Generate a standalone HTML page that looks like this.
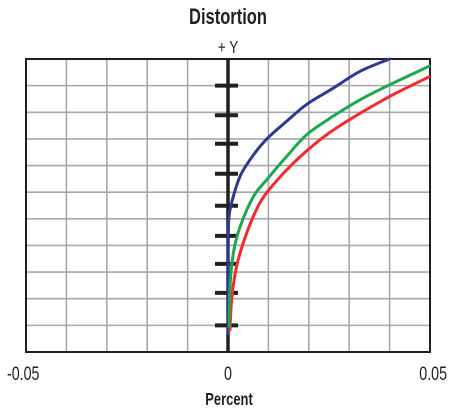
<!DOCTYPE html>
<html><head><meta charset="utf-8"><style>
html,body{margin:0;padding:0;background:#fff;}
svg{display:block;font-family:"Liberation Sans Narrow","Liberation Sans",sans-serif;}
</style></head><body>
<svg id="chart" width="454" height="411"></svg>
<script>
const xTicks=[-0.05,0,0.05];
const xTickLabels=["-0.05","0","0.05"];
const yTicks=[0.1,0.222,0.331,0.436,0.549,0.669,0.782,0.889,1.0];
const blueX=[0,0,0.0002,0.0009,0.003,0.0063,0.0096,0.0145,0.0195,0.026,0.0327,0.040];
const blueY=[0.07,0.37,0.50,0.56,0.66,0.74,0.80,0.866,0.93,0.99,1.054,1.10];
const greenX=[0.0003,0.0005,0.0013,0.003,0.0063,0.0096,0.0145,0.0195,0.026,0.0327,0.0401,0.0498];
const greenY=[0.095,0.245,0.37,0.47,0.584,0.647,0.734,0.816,0.885,0.947,1.004,1.073];
const redX=[0.0005,0.0009,0.0021,0.0046,0.0079,0.0112,0.0162,0.0228,0.0294,0.0401,0.0498];
const redY=[0.083,0.195,0.32,0.446,0.56,0.628,0.709,0.797,0.866,0.96,1.033];

const L=26,R=430,T=59,B=352;
const xMin=-0.05,xMax=0.05,yMin=0,yMax=1.1;
const sx=v=>L+(v-xMin)/(xMax-xMin)*(R-L);
const sy=v=>B-(v-yMin)/(yMax-yMin)*(B-T);
const svg=document.getElementById('chart');
const NS="http://www.w3.org/2000/svg";
function mk(tag,attrs,parent){const e=document.createElementNS(NS,tag);for(const k in attrs)e.setAttribute(k,attrs[k]);(parent||svg).appendChild(e);return e;}

const grid=mk('g',{});


for(let i=1;i<10;i++){const x=sx(xMin+i*0.01);
  const l=mk('line',{x1:x,x2:x,y1:T,y2:B,stroke:'#a8a8a8','stroke-width':1.6},grid);
  
  }
for(let i=1;i<11;i++){const y=sy(i*0.1);
  const l=mk('line',{x1:L,x2:R,y1:y,y2:y,stroke:'#a8a8a8','stroke-width':1.6},grid);
  
  }
const fr=mk('rect',{x:L,y:T,width:R-L,height:B-T,fill:'none',stroke:'#231f20','stroke-width':2});


const ya=mk('line',{x1:sx(0),x2:sx(0),y1:T,y2:B,stroke:'#231f20','stroke-width':3.5});


yTicks.forEach(v=>{const y=sy(v);
  const t=mk('line',{x1:sx(0)-13,x2:sx(0)+10,y1:y,y2:y,stroke:'#231f20','stroke-width':4});
  
  });
function series(xs,ys,color,name){
  const P=xs.map((x,i)=>[sx(x),sy(ys[i])]);
  let d='M'+P[0][0].toFixed(1)+' '+P[0][1].toFixed(1);
  for(let i=0;i<P.length-1;i++){
    const p0=P[Math.max(0,i-1)],p1=P[i],p2=P[i+1],p3=P[Math.min(P.length-1,i+2)];
    const c1=[p1[0]+(p2[0]-p0[0])/6,p1[1]+(p2[1]-p0[1])/6];
    const c2=[p2[0]-(p3[0]-p1[0])/6,p2[1]-(p3[1]-p1[1])/6];
    d+=' C'+c1[0].toFixed(1)+' '+c1[1].toFixed(1)+' '+c2[0].toFixed(1)+' '+c2[1].toFixed(1)+' '+p2[0].toFixed(1)+' '+p2[1].toFixed(1);
  }
  const p=mk('path',{d:d,fill:'none',stroke:color,'stroke-width':3,'stroke-linejoin':'round','stroke-linecap':'round'});
  
  
}
series(blueX,blueY,'#2e3a8f','series-blue');
series(redX,redY,'#ee2d2f','series-red');
series(greenX,greenY,'#1fa650','series-green');
function txt(s,x,y,size,weight,anchor,sc,name){
  const g=mk('g',{transform:'translate('+x+' '+y+') scale('+sc+' 1)'});
  const t=mk('text',{x:0,y:0,'font-size':size,'font-weight':weight,fill:'#231f20','text-anchor':anchor},g);
  t.textContent=s;
  
  
}
xTicks.forEach((v,i)=>{
  const anchor=i===0?'start':(i===xTicks.length-1?'end':'middle');
  const x=i===0?7:(i===xTicks.length-1?447:sx(v));
  txt(xTickLabels[i],x,380,19,'normal',anchor,0.75,'x-tick-label');
});
txt('Distortion',228,24,22,'bold','middle',0.75,'chart-title');
txt('+ Y',228,53,18,'normal','middle',0.75,'y-axis-title');
txt('Percent',229,405,18,'bold','middle',0.72,'x-axis-title');
</script>
</body></html>
